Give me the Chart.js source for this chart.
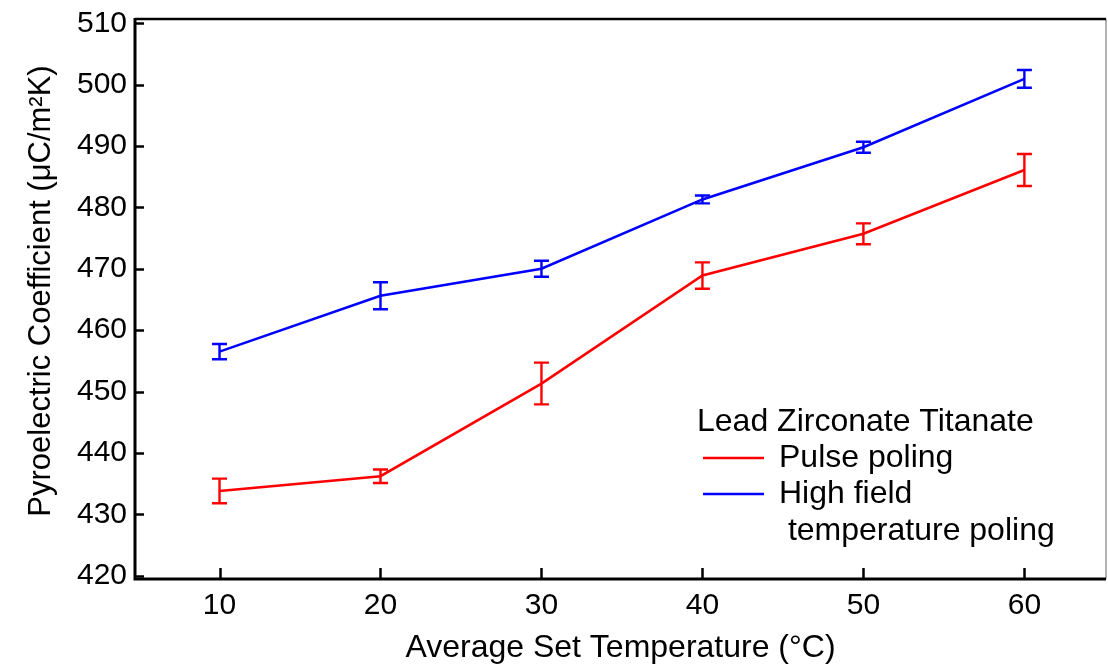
<!DOCTYPE html>
<html>
<head>
<meta charset="utf-8">
<script src="https://cdn.jsdelivr.net/npm/chart.js@4.4.1/dist/chart.umd.min.js"></script>
<style>
  html, body { margin: 0; padding: 0; background: #ffffff; }
  #wrap { width: 1108px; height: 668px; }
</style>
</head>
<body>
<div id="wrap"><canvas id="chart" width="1108" height="668"></canvas></div>
<script>
// Average set temperature (°C)
const temperatures = [10, 20, 30, 40, 50, 60];

// Pyroelectric coefficient (µC/m²K) and error half-widths
const pulseValues = [433.8, 436.2, 451.3, 468.9, 475.7, 486.1];
const pulseErrors = [2.0, 1.1, 3.4, 2.15, 1.7, 2.6];
const highFieldValues = [456.5, 465.6, 470.0, 481.3, 489.8, 500.95];
const highFieldErrors = [1.25, 2.2, 1.3, 0.65, 0.9, 1.45];

// Tick labels
const xTickValues = [10, 20, 30, 40, 50, 60];
const yTickValues = [420, 430, 440, 450, 460, 470, 480, 490, 500, 510];

const xTitle = 'Average Set Temperature (°C)';
const yTitle = 'Pyroelectric Coefficient (μC/m²K)';
const legendTitle = 'Lead Zirconate Titanate';
const pulseLabel = 'Pulse poling';
const highFieldLabel = ['High field', ' temperature poling'];

const FONT = '"Liberation Sans", Arial, sans-serif';

function toPoints(xs, ys) {
  return xs.map((x, i) => ({ x: x, y: ys[i] }));
}

// Vertical error bars with caps, positioned by the chart's scales
const errorBarPlugin = {
  id: 'errorBars',
  afterDatasetsDraw(chart) {
    const ctx = chart.ctx;
    const yScale = chart.scales.y;
    chart.data.datasets.forEach((ds, di) => {
      const meta = chart.getDatasetMeta(di);
      const errs = ds.errors || [];
      ctx.save();
      ctx.strokeStyle = ds.borderColor;
      ctx.lineWidth = 2.4;
      meta.data.forEach((pt, i) => {
        const v = ds.data[i].y;
        const e = errs[i];
        const x = pt.x;
        const yTop = yScale.getPixelForValue(v + e);
        const yBot = yScale.getPixelForValue(v - e);
        const cap = 7.5;
        ctx.beginPath();
        ctx.moveTo(x, yTop); ctx.lineTo(x, yBot);
        ctx.moveTo(x - cap, yTop); ctx.lineTo(x + cap, yTop);
        ctx.moveTo(x - cap, yBot); ctx.lineTo(x + cap, yBot);
        ctx.stroke();
      });
      ctx.restore();
    });
  }
};

// Plot frame, inward-facing tick marks and the rotated y-axis title
const framePlugin = {
  id: 'frame',
  afterDraw(chart) {
    const ctx = chart.ctx;
    const a = chart.chartArea;
    const xs = chart.scales.x, ys = chart.scales.y;
    ctx.save();
    ctx.strokeStyle = '#000000';
    ctx.lineCap = 'butt';
    ctx.lineWidth = 2.5;
    ctx.beginPath();
    ys.ticks.forEach(t => {
      const y = Math.round(ys.getPixelForValue(t.value)) + 0.5;
      ctx.moveTo(a.left, y); ctx.lineTo(a.left + 9, y);
    });
    xs.ticks.forEach(t => {
      const x = Math.round(xs.getPixelForValue(t.value)) + 0.5;
      ctx.moveTo(x, a.bottom); ctx.lineTo(x, a.bottom - 11);
    });
    ctx.stroke();
    ctx.strokeStyle = '#9a9a9a';
    ctx.lineWidth = 1.5;
    ctx.beginPath();
    ctx.moveTo(a.right, a.top); ctx.lineTo(a.right, a.bottom);
    ctx.stroke();
    ctx.strokeStyle = '#000000';
    ctx.lineWidth = 3;
    ctx.beginPath();
    ctx.moveTo(a.left, a.top - 1); ctx.lineTo(a.left, a.bottom + 1.5);
    ctx.moveTo(a.left - 1.5, a.bottom); ctx.lineTo(a.right, a.bottom);
    ctx.stroke();
    ctx.lineWidth = 2.5;
    ctx.beginPath();
    ctx.moveTo(a.left, a.top); ctx.lineTo(a.right, a.top);
    ctx.stroke();

    // y-axis title
    ctx.fillStyle = '#000000';
    ctx.font = '31px ' + FONT;
    ctx.textAlign = 'center';
    ctx.textBaseline = 'middle';
    ctx.translate(41, (a.top + a.bottom) / 2 - 8);
    ctx.rotate(-Math.PI / 2);
    ctx.fillText(yTitle, 0, 0);
    ctx.restore();
  }
};

// Legend block with a heading and line swatches
const legendPlugin = {
  id: 'customLegend',
  afterDraw(chart) {
    const ctx = chart.ctx;
    const ds = chart.data.datasets;
    ctx.save();
    ctx.fillStyle = '#000000';
    ctx.font = '32px ' + FONT;
    ctx.textBaseline = 'alphabetic';
    ctx.textAlign = 'left';
    ctx.fillText(legendTitle, 697, 431);
    ctx.lineWidth = 2.5;
    ctx.strokeStyle = ds[0].borderColor;
    ctx.beginPath(); ctx.moveTo(703, 458); ctx.lineTo(764, 458); ctx.stroke();
    ctx.fillText(pulseLabel, 779, 467);
    ctx.strokeStyle = ds[1].borderColor;
    ctx.beginPath(); ctx.moveTo(703, 494); ctx.lineTo(764, 494); ctx.stroke();
    ctx.fillText(highFieldLabel[0], 779, 503);
    ctx.fillText(highFieldLabel[1], 779, 540);
    ctx.restore();
  }
};

new Chart(document.getElementById('chart'), {
  type: 'line',
  data: {
    datasets: [
      {
        label: pulseLabel,
        data: toPoints(temperatures, pulseValues),
        errors: pulseErrors,
        borderColor: '#ff0000',
        backgroundColor: '#ff0000',
        borderWidth: 2.6,
        pointRadius: 0,
        tension: 0,
        fill: false
      },
      {
        label: highFieldLabel.join(''),
        data: toPoints(temperatures, highFieldValues),
        errors: highFieldErrors,
        borderColor: '#0000ff',
        backgroundColor: '#0000ff',
        borderWidth: 2.6,
        pointRadius: 0,
        tension: 0,
        fill: false
      }
    ]
  },
  options: {
    responsive: false,
    animation: false,
    devicePixelRatio: 1,
    layout: { padding: { top: 19, right: 2, left: 0, bottom: 0 } },
    plugins: {
      legend: { display: false },
      tooltip: { enabled: false }
    },
    scales: {
      x: {
        type: 'linear',
        min: 4.75,
        max: 65.07,
        afterBuildTicks: s => { s.ticks = xTickValues.map(v => ({ value: v })); },
        afterFit: s => { s.height = 89; s.paddingLeft = 0; s.paddingRight = 0; },
        grid: { display: false, drawTicks: false },
        border: { display: false },
        ticks: {
          color: '#000000',
          font: { family: FONT, size: 30 },
          padding: 9,
          maxRotation: 0,
          callback: v => String(v)
        },
        title: {
          display: true,
          text: xTitle,
          color: '#000000',
          font: { family: FONT, size: 32 },
          padding: { top: 0, bottom: 1 }
        }
      },
      y: {
        type: 'linear',
        min: 419.45,
        max: 510.7,
        afterBuildTicks: s => { s.ticks = yTickValues.map(v => ({ value: v })); },
        afterFit: s => { s.width = 135; s.paddingTop = 0; s.paddingBottom = 0; },
        grid: { display: false, drawTicks: false },
        border: { display: false },
        ticks: {
          color: '#000000',
          font: { family: FONT, size: 30 },
          padding: 8,
          callback: v => String(v)
        },
        title: { display: false }
      }
    }
  },
  plugins: [errorBarPlugin, framePlugin, legendPlugin]
});
</script>
</body>
</html>
